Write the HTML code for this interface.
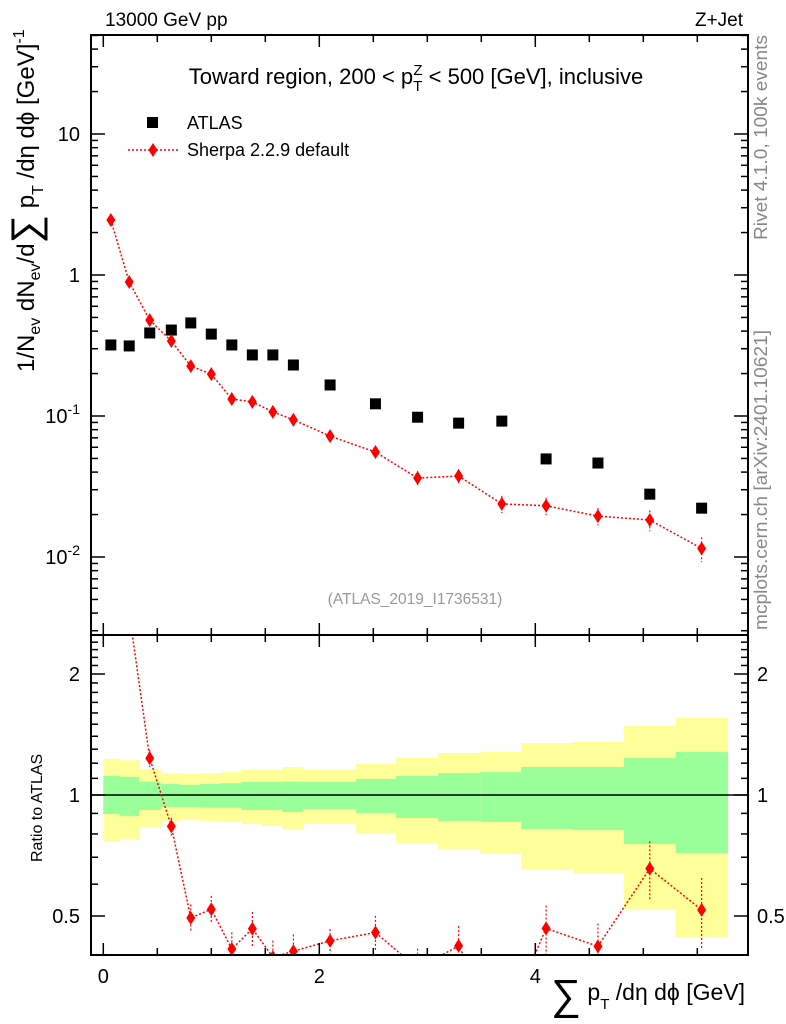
<!DOCTYPE html>
<html><head><meta charset="utf-8"><style>
body{margin:0;background:#fff;}
svg{display:block;font-family:"Liberation Sans",sans-serif;}
</style></head><body>
<svg id="c" width="786" height="1024" viewBox="0 0 786 1024" xmlns="http://www.w3.org/2000/svg">
<defs>
<clipPath id="cm"><rect x="91" y="35" width="657" height="600"/></clipPath>
<clipPath id="cr"><rect x="91" y="635" width="657" height="320"/></clipPath>
</defs>
<g id="bands" clip-path="url(#cr)"></g>
<g id="marks"></g>
<rect x="91" y="35" width="657" height="600" fill="none" stroke="#000" stroke-width="2"/>
<rect x="91" y="635" width="657" height="320" fill="none" stroke="#000" stroke-width="2"/>
<g id="axes"></g>
<text x="105" y="26" font-size="19">13000 GeV pp</text>
<text x="743" y="26" font-size="19" text-anchor="end">Z+Jet</text>
<text x="416" y="84" font-size="22" text-anchor="middle">Toward region, 200 &lt; p<tspan font-size="15" dy="7">T</tspan><tspan font-size="15" dx="-9" dy="-16">Z</tspan><tspan dy="9"> &lt; 500 [GeV], inclusive</tspan></text>
<g>
<rect x="147" y="117" width="11" height="11" fill="#000"/>
<text x="187" y="129" font-size="18">ATLAS</text>
<line x1="128" y1="150" x2="178" y2="150" stroke="#f00" stroke-width="1.5" stroke-dasharray="2,2"/>
<path d="M153 143 L157.5 150 L153 157 L148.5 150 Z" fill="#f00"/>
<text x="187" y="156" font-size="18">Sherpa 2.2.9 default</text>
</g>
<text x="415" y="604" font-size="15.5" fill="#999" text-anchor="middle">(ATLAS_2019_I1736531)</text>
<text transform="translate(767,240) rotate(-90)" font-size="18" fill="#888" textLength="205" lengthAdjust="spacingAndGlyphs">Rivet 4.1.0,  100k events</text>
<text transform="translate(767,630) rotate(-90)" font-size="18" fill="#888" textLength="300" lengthAdjust="spacingAndGlyphs">mcplots.cern.ch [arXiv:2401.10621]</text>
<text transform="translate(34,372) rotate(-90)" font-size="24">1/N<tspan font-size="16" dy="6">ev</tspan><tspan dy="-6"> dN</tspan><tspan font-size="16" dy="6">ev</tspan><tspan dy="-6">/d</tspan><tspan font-size="40" dy="5">∑</tspan><tspan dy="-5"> p</tspan><tspan font-size="16" dy="9">T</tspan><tspan dy="-9"> /dη dϕ  [GeV]</tspan><tspan font-size="16" dy="-10">-1</tspan></text>
<text transform="translate(42,862) rotate(-90)" font-size="16">Ratio to ATLAS</text>
<text x="745" y="1000" font-size="23" text-anchor="end"><tspan font-size="42" dy="9">∑</tspan><tspan dy="-9"> p</tspan><tspan font-size="15" dy="9">T</tspan><tspan dy="-9"> /dη dϕ [GeV]</tspan></text>
</svg>
<script>
const binEdges=[0,0.15,0.33,0.53,0.71,0.9,1.09,1.28,1.47,1.66,1.85,2.34,2.71,3.1,3.49,3.87,4.35,4.82,5.3,5.78];
const binCenters=[0.07,0.24,0.43,0.63,0.81,1.0,1.19,1.38,1.57,1.76,2.1,2.52,2.91,3.29,3.69,4.1,4.58,5.06,5.54];
const atlasValues=[0.319,0.314,0.388,0.407,0.457,0.381,0.319,0.271,0.271,0.23,0.166,0.122,0.098,0.089,0.092,0.0496,0.0464,0.0279,0.0222];
const sherpaValues=[2.455,0.892,0.479,0.34,0.226,0.198,0.132,0.126,0.107,0.094,0.072,0.0555,0.0363,0.0375,0.0238,0.0231,0.0195,0.0183,0.0115];
const sherpaRelErr=[0.03,0.04,0.05,0.05,0.08,0.08,0.1,0.1,0.1,0.1,0.07,0.1,0.12,0.12,0.14,0.14,0.14,0.17,0.2];
const bandInnerHi=[1.115,1.11,1.08,1.065,1.06,1.065,1.07,1.077,1.077,1.08,1.077,1.096,1.115,1.134,1.14,1.174,1.174,1.236,1.28];
const bandInnerLo=[0.897,0.886,0.918,0.934,0.934,0.93,0.93,0.918,0.918,0.907,0.923,0.902,0.877,0.862,0.857,0.823,0.818,0.755,0.717];
const bandOuterHi=[1.23,1.22,1.16,1.134,1.13,1.134,1.14,1.154,1.154,1.174,1.154,1.195,1.236,1.272,1.28,1.347,1.355,1.485,1.555];
const bandOuterLo=[0.768,0.777,0.833,0.862,0.868,0.862,0.857,0.847,0.837,0.823,0.847,0.804,0.76,0.734,0.717,0.654,0.64,0.52,0.443];
const xTickLabels=["0","2","4"];
const mainTickLabels=[[10,"10"],[1,"1"],[0.1,"10^-1"],[0.01,"10^-2"]];
const ratioTickLabels=[[2,"2"],[1,"1"],[0.5,"0.5"]];

const NS="http://www.w3.org/2000/svg";
const X=v=>103.3+108*v;
const YM=v=>275-141*Math.log10(v);
const YR=v=>795-121*Math.log2(v);
function mk(tag,at,parent){const e=document.createElementNS(NS,tag);for(const k in at)e.setAttribute(k,at[k]);parent.appendChild(e);return e;}
const bands=document.getElementById('bands'),marks=document.getElementById('marks'),axes=document.getElementById('axes');

for(let i=0;i<binCenters.length;i++){
  const x0=X(binEdges[i]),x1=X(binEdges[i+1]);
  const o=mk('rect',{x:x0,y:YR(bandOuterHi[i]),width:x1-x0+0.5,height:YR(bandOuterLo[i])-YR(bandOuterHi[i]),fill:'#ffff99'},bands);
  
  
  const g=mk('rect',{x:x0,y:YR(bandInnerHi[i]),width:x1-x0+0.5,height:YR(bandInnerLo[i])-YR(bandInnerHi[i]),fill:'#99ff99'},bands);
  
  
}
mk('line',{x1:91,x2:748,y1:YR(1),y2:YR(1),stroke:'#000','stroke-width':1.5},bands);

const gm=mk('g',{'clip-path':'url(#cm)'},marks);
const gr=mk('g',{'clip-path':'url(#cr)'},marks);
function diamond(g,x,y){return mk('path',{d:`M${x} ${y-7} L${x+4.5} ${y} L${x} ${y+7} L${x-4.5} ${y} Z`,fill:'#f00'},g);}
let pm='',pr='';
binCenters.forEach((c,i)=>{
  const x=X(c);
  const a=mk('rect',{x:x-5.5,y:YM(atlasValues[i])-5.5,width:11,height:11,fill:'#000'},gm);
  
  
  const s=sherpaValues[i],e=sherpaRelErr[i];
  pm+=(i?'L':'M')+x+' '+YM(s);
  mk('line',{x1:x,x2:x,y1:YM(s*(1+e)),y2:YM(s*(1-e)),stroke:'#f00','stroke-width':1.2,'stroke-dasharray':'2,2'},gm);
  const d=diamond(gm,x,YM(s));
  
  
  const r=s/atlasValues[i];
  pr+=(i?'L':'M')+x+' '+YR(r);
  mk('line',{x1:x,x2:x,y1:YR(r*(1+e)),y2:YR(r*(1-e)),stroke:'#f00','stroke-width':1.2,'stroke-dasharray':'2,2'},gr);
  const dr=diamond(gr,x,YR(r));
  
  
});
const lm=mk('path',{d:pm,fill:'none',stroke:'#f00','stroke-width':1.5,'stroke-dasharray':'2,2'},gm);


const lr=mk('path',{d:pr,fill:'none',stroke:'#f00','stroke-width':1.5,'stroke-dasharray':'2,2'},gr);



function tick(x1,y1,x2,y2){mk('line',{x1,y1,x2,y2,stroke:'#000','stroke-width':1.5},axes);}
for(let v=0;v<=5.5;v+=0.5){
  const x=X(v),L=(Math.abs(v%2)<1e-9)?12:7;
  [35,635].forEach(y=>{tick(x,y,x,y+L);});
  [635,955].forEach(y=>{tick(x,y,x,y-L);});
}
xTickLabels.forEach((t,i)=>{const e=mk('text',{x:X(+t),y:983,'font-size':20,'text-anchor':'middle'},axes);e.textContent=t;
  
  });
for(let p=-3;p<=1;p++){for(let m=1;m<=9;m++){const v=m*Math.pow(10,p),y=YM(v);if(y<35||y>635)continue;const L=m==1?14:7;tick(91,y,91+L,y);tick(748,y,748-L,y);}}
mainTickLabels.forEach(([v,t])=>{const y=YM(v);const e=mk('text',{x:80,y:y+7,'font-size':20,'text-anchor':'end'},axes);
  
  
  const parts=t.split('^');e.textContent=parts[0];if(parts[1]){const s=mk('tspan',{'font-size':14,dy:-9},e);s.textContent=parts[1];}});
for(let v=0.4;v<=2.51;v+=0.1){const y=YR(v);if(y<635||y>955)continue;const maj=[0.5,1,2].some(q=>Math.abs(q-v)<1e-6);const L=maj?14:7;tick(91,y,91+L,y);tick(748,y,748-L,y);}
ratioTickLabels.forEach(([v,t])=>{const y=YR(v);
  const e=mk('text',{x:80,y:y+7,'font-size':20,'text-anchor':'end'},axes);e.textContent=t;
  
  
  const f=mk('text',{x:757,y:y+7,'font-size':20},axes);f.textContent=t;
  
  });
</script>
</body></html>
